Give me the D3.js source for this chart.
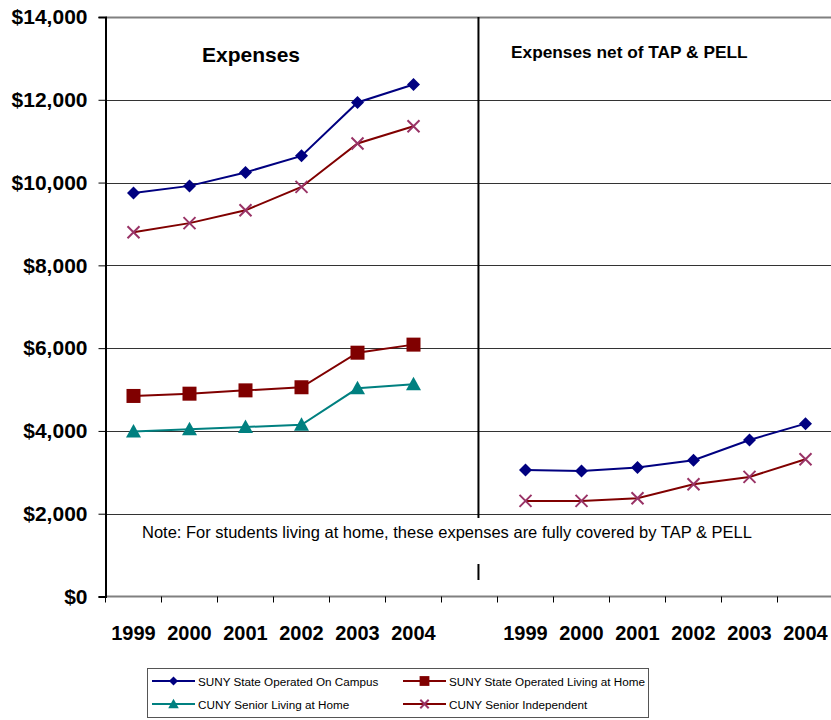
<!doctype html>
<html>
  <head>
    <meta charset="utf-8">
    <title>Expenses vs. Expenses net of TAP & PELL</title>
    <script src="https://cdnjs.cloudflare.com/ajax/libs/d3/7.8.5/d3.min.js"></script>
    <style>
      body { margin: 0; background: #fff; font-family: "Liberation Sans", Arial, sans-serif; }
      svg { display: block; }
    </style>
  </head>
  <body>
    <div id="chart"></div>
    <script>
      // categories: left panel years, one empty slot, right panel years
      const years = ['1999', '2000', '2001', '2002', '2003', '2004'];
      const tickLabels = years.concat([''], years);

      // left panel: total expenses
      const onCampus = [9750, 9920, 10245, 10645, 11935, 12370];
      const suHome = [4845, 4900, 4980, 5055, 5890, 6085];
      const cuHome = [3985, 4040, 4095, 4150, 5030, 5125];
      const cuIndep = [8800, 9020, 9330, 9895, 10945, 11360];

      // right panel: expenses net of TAP & PELL
      const onCampusNet = [3058, 3034, 3114, 3292, 3782, 4176];
      const cuIndepNet = [2310, 2310, 2375, 2713, 2889, 3316];

      const yTicks = [0, 2000, 4000, 6000, 8000, 10000, 12000, 14000];

      const series = [
        { name: 'SUNY State Operated On Campus', left: onCampus, right: onCampusNet, line: '#000080', fill: '#000080', marker: 'diamond' },
        { name: 'SUNY State Operated Living at Home', left: suHome, right: null, line: '#800000', fill: '#800000', marker: 'square' },
        { name: 'CUNY Senior Living at Home', left: cuHome, right: null, line: '#008080', fill: '#008080', marker: 'triangle' },
        { name: 'CUNY Senior Independent', left: cuIndep, right: cuIndepNet, line: '#800000', fill: '#993366', marker: 'cross' }
      ];

      const width = 831, height = 720;
      const margin = { top: 17, left: 105.5, bottom: 123.5 };
      const plotBottom = height - margin.bottom;

      const svg = d3.select('#chart').append('svg')
        .attr('width', width)
        .attr('height', height);

      const x = d3.scaleBand()
        .domain(d3.range(tickLabels.length))
        .range([margin.left, margin.left + 56 * tickLabels.length]);

      const y = d3.scaleLinear()
        .domain([0, 14000])
        .range([plotBottom, margin.top]);

      // gridlines
      svg.append('g')
        .selectAll('line')
        .data(yTicks.filter(d => d > 0))
        .join('line')
        .attr('x1', margin.left)
        .attr('x2', width)
        .attr('y1', d => Math.round(y(d)) + 0.5)
        .attr('y2', d => Math.round(y(d)) + 0.5)
        .attr('stroke', d => d === 14000 ? '#808080' : '#333')
        .attr('stroke-width', d => d === 14000 ? 2 : 1);

      // x axis
      const xAxis = svg.append('g')
        .attr('transform', `translate(0,${plotBottom})`);
      xAxis.append('line')
        .attr('x1', margin.left).attr('x2', width)
        .attr('stroke', '#808080').attr('stroke-width', 2);
      xAxis.selectAll('.tk')
        .data(d3.range(tickLabels.length + 1))
        .join('line')
        .attr('x1', d => margin.left + d * x.step())
        .attr('x2', d => margin.left + d * x.step())
        .attr('y1', 0).attr('y2', 6)
        .attr('stroke', '#000').attr('stroke-width', 1);
      xAxis.selectAll('text')
        .data(tickLabels)
        .join('text')
        .attr('x', (d, i) => x(i) + x.bandwidth() / 2)
        .attr('y', 43)
        .attr('text-anchor', 'middle')
        .attr('font-size', 20)
        .attr('font-weight', 'bold')
        .text(d => d);

      // y axis
      const yAxis = svg.append('g')
        .attr('transform', `translate(${margin.left},0)`)
        .call(d3.axisLeft(y)
          .tickValues(yTicks)
          .tickSize(7)
          .tickPadding(11)
          .tickFormat(d => '$' + d3.format(',')(d)));
      yAxis.select('.domain').attr('stroke', '#000').attr('stroke-width', 2);
      yAxis.selectAll('.tick line').attr('stroke', '#000');
      yAxis.selectAll('.tick text')
        .attr('font-family', '"Liberation Sans", Arial, sans-serif')
        .attr('font-size', 21)
        .attr('font-weight', 'bold')
        .attr('fill', '#000');

      // divider between panels
      const divX = x(6) + x.bandwidth() * 0.66;
      svg.append('line')
        .attr('x1', divX).attr('x2', divX)
        .attr('y1', margin.top).attr('y2', 518)
        .attr('stroke', '#000').attr('stroke-width', 2);
      svg.append('line')
        .attr('x1', divX).attr('x2', divX)
        .attr('y1', 564).attr('y2', 580)
        .attr('stroke', '#000').attr('stroke-width', 2);

      // markers
      function drawMarker(g, type, fill, s) {
        if (type === 'diamond') {
          g.append('path').attr('d', `M0,${-s}L${s},0L0,${s}L${-s},0Z`).attr('fill', fill);
        } else if (type === 'square') {
          g.append('rect').attr('x', -s).attr('y', -s).attr('width', 2 * s).attr('height', 2 * s).attr('fill', fill);
        } else if (type === 'triangle') {
          g.append('path').attr('d', `M0,${-s}L${s},${s * 0.8}L${-s},${s * 0.8}Z`).attr('fill', fill);
        } else {
          g.append('path').attr('d', `M${-s},${-s}L${s},${s}M${-s},${s}L${s},${-s}`)
            .attr('stroke', fill).attr('stroke-width', 2).attr('fill', 'none');
        }
      }
      const markerSize = { diamond: 6.5, square: 7, triangle: 7.5, cross: 6 };

      const line = d3.line()
        .x(d => x(d.i) + x.bandwidth() / 2)
        .y(d => y(d.v));

      series.forEach(s => {
        const parts = [s.left.map((v, i) => ({ i, v }))];
        if (s.right) parts.push(s.right.map((v, i) => ({ i: i + 7, v })));
        parts.forEach(pts => {
          svg.append('path')
            .datum(pts)
            .attr('d', line)
            .attr('fill', 'none')
            .attr('stroke', s.line)
            .attr('stroke-width', 2);
          svg.append('g')
            .selectAll('g')
            .data(pts)
            .join('g')
            .attr('transform', d => `translate(${x(d.i) + x.bandwidth() / 2},${y(d.v)})`)
            .each(function () { drawMarker(d3.select(this), s.marker, s.fill, markerSize[s.marker]); });
        });
      });

      // panel titles and note
      svg.append('text')
        .attr('x', 251).attr('y', 62)
        .attr('text-anchor', 'middle')
        .attr('font-size', 21).attr('font-weight', 'bold')
        .text('Expenses');
      svg.append('text')
        .attr('x', 511).attr('y', 58)
        .attr('font-size', 17.3).attr('font-weight', 'bold')
        .text('Expenses net of TAP & PELL');
      svg.append('text')
        .attr('x', 142).attr('y', 538)
        .attr('font-size', 16.5)
        .text('Note: For students living at home, these expenses are fully covered by TAP & PELL');

      // legend
      const legend = svg.append('g');
      legend.append('rect')
        .attr('x', 147.5).attr('y', 668.5)
        .attr('width', 501).attr('height', 49)
        .attr('fill', '#fff').attr('stroke', '#555').attr('stroke-width', 1);
      const legendItems = legend.selectAll('g')
        .data(series)
        .join('g')
        .attr('transform', (d, i) => `translate(${i % 2 === 0 ? 152 : 403},${i < 2 ? 681 : 704})`);
      legendItems.append('line')
        .attr('x1', 0).attr('x2', 43)
        .attr('stroke', d => d.line).attr('stroke-width', 2);
      legendItems.append('g')
        .attr('transform', 'translate(21.5,0)')
        .each(function (d) { drawMarker(d3.select(this), d.marker, d.fill, markerSize[d.marker] * 0.7); });
      legendItems.append('text')
        .attr('x', 46).attr('y', 4.5)
        .attr('font-size', 11.7)
        .text(d => d.name);
    </script>
  </body>
</html>
